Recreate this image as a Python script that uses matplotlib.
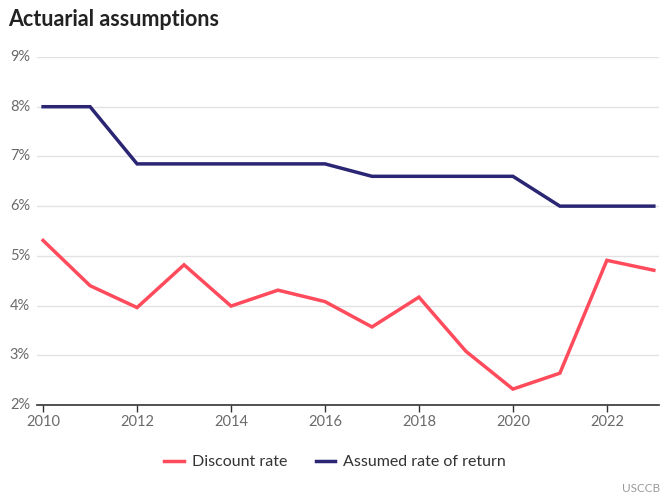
import matplotlib.pyplot as plt
from matplotlib.ticker import FuncFormatter

plt.rcParams['font.family'] = ['Lato', 'DejaVu Sans']

years = [2010, 2011, 2012, 2013, 2014, 2015, 2016, 2017, 2018, 2019, 2020, 2021, 2022, 2023]
discount_rate = [5.31, 4.40, 3.96, 4.82, 3.99, 4.31, 4.08, 3.57, 4.17, 3.08, 2.32, 2.64, 4.91, 4.71]
assumed_return = [8.0, 8.0, 6.85, 6.85, 6.85, 6.85, 6.85, 6.6, 6.6, 6.6, 6.6, 6.0, 6.0, 6.0]

red = "#ff4b5c"
navy = "#2a2673"
gray = "#6a6a6a"

fig = plt.figure(figsize=(6.7, 5), dpi=100)
ax = fig.add_axes([0.0552, 0.19, 0.9284, 0.696])

ax.plot(years, discount_rate, color=red, lw=2.5, label="Discount rate", solid_joinstyle="miter")
ax.plot(years, assumed_return, color=navy, lw=2.5, label="Assumed rate of return", solid_joinstyle="miter")

ax.set_xlim(2009.87, 2023.11)
ax.set_ylim(2, 9)
ax.set_xticks(range(2010, 2024, 2))
ax.set_yticks(range(2, 10))
ax.yaxis.set_major_formatter(FuncFormatter(lambda v, p: f"{v:.0f}%"))

ax.grid(axis="y", color="#e2e2e2", lw=1)
ax.set_axisbelow(True)
for s in ["top", "right", "left"]:
    ax.spines[s].set_visible(False)
ax.spines["bottom"].set_color("#333333")
ax.spines["bottom"].set_linewidth(1.2)

ax.tick_params(axis="x", colors="#333333", length=5, width=1, labelcolor=gray, labelsize=10.5, pad=2)
ax.tick_params(axis="y", length=0, labelcolor=gray, labelsize=10.5, pad=19.5)
for lbl in ax.get_yticklabels():
    lbl.set_horizontalalignment("left")
    lbl.set_verticalalignment("center")

fig.text(0.012, 0.962, "Actuarial assumptions", fontsize=15.5, fontweight="bold", color="#222222", va="center")

fig.legend(loc="center", bbox_to_anchor=(0.5, 0.076), ncol=2, frameon=False, fontsize=11.5,
           handlelength=1.2, handletextpad=0.5, columnspacing=1.8, labelcolor="#333333")

fig.text(0.985, 0.024, "USCCB", fontsize=8.5, color="#999999", ha="right", va="center")

fig.savefig("out.png", dpi=100)
